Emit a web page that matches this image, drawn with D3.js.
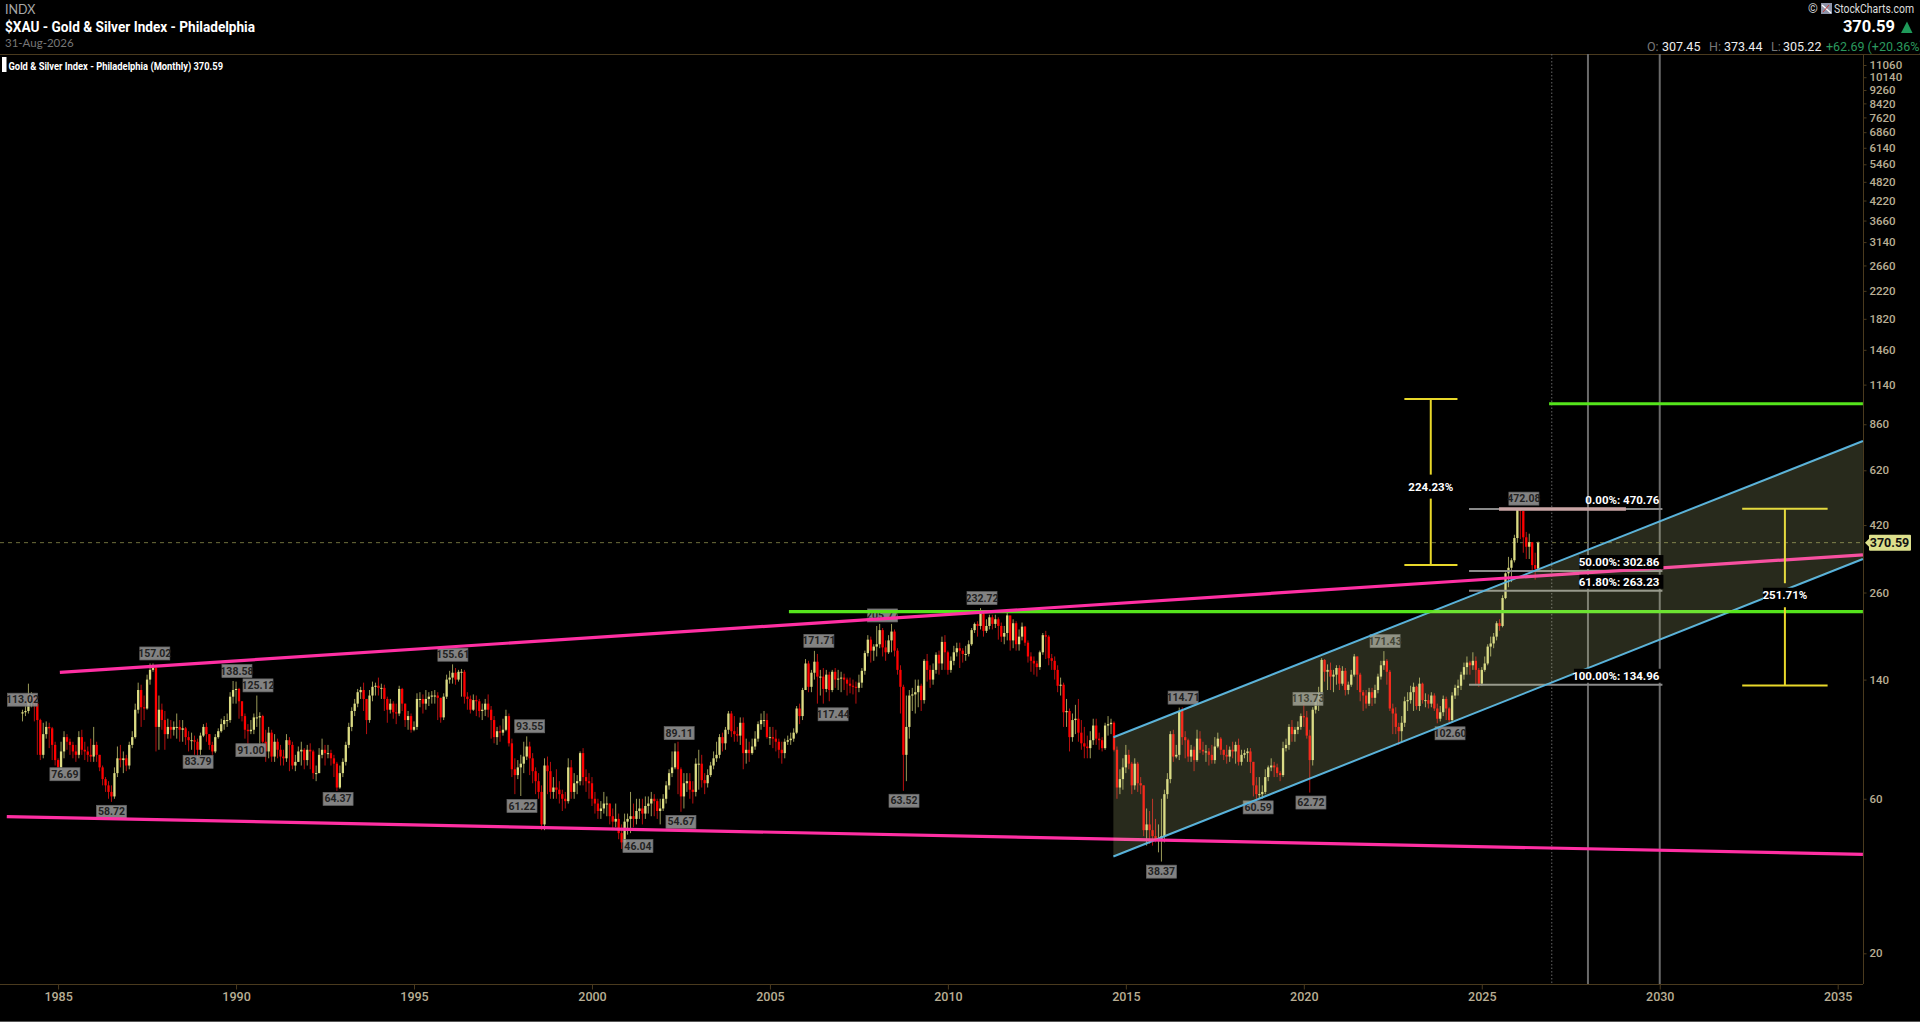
<!DOCTYPE html>
<html><head><meta charset="utf-8"><title>$XAU</title>
<script src="https://cdn.jsdelivr.net/npm/d3@7/dist/d3.min.js"></script>
<style>html,body{margin:0;background:#000;overflow:hidden}svg{display:block;font-family:Roboto,"Noto Sans",sans-serif}</style>
</head><body><svg id="c" width="1920" height="1022"></svg>
<script>
// Monthly candles from Jan 1984 to Aug 2026, one row per year
const firstOpen = 110;
const closes = [
111,112,122,125,118,105,82,95,100,99,88,79,
75,84,93,90,88,84,82,93,85,84,82,81,
88,82,75,69,66,63,61,72,80,79,80,76,
88,93,113,130,115,114,140,150,152,100,113,105,
95,100,98,100,100,98,99,93,91,91,90,85,
94,100,95,88,84,93,97,102,105,105,124,130,
131,120,108,98,97,98,107,107,108,90,84,96,
81,90,85,81,80,91,88,76,78,84,85,79,
85,84,72,72,82,85,83,83,80,77,65,72,
78,88,100,112,118,128,130,122,105,125,133,134,
132,132,122,113,118,111,110,131,118,105,108,98,
100,122,122,118,122,124,125,125,123,107,124,140,
142,147,140,148,148,124,122,113,121,120,112,113,
118,113,105,93,97,96,98,108,89,74,71,75,
77,81,87,80,73,68,63,50,76,73,63,65,
64,62,60,59,75,63,67,68,83,70,68,67,
60,58,55,56,58,58,53,51,52,47,44,51,
52,53,52,55,56,54,57,58,60,59,55,56,
60,66,72,75,84,74,61,67,68,64,63,77,
77,68.5,67,71,76,80,82,93,89,98,110,97,
95,94,103,83,85,83,87,92,102,105,105,93,
93,92,90,85,83,90,91,92,96,114,108,130,
157,133,147,159,143,143,131,145,130,148,140,141,
142,140,136,134,133,132,137,149,169,186,172,177,
180,199,176,170,185,197,172,150,133,82,100,125,
126,128,134,121,160,150,140,150,167,157,183,170,
150,160,170,175,172,168,168,180,199,208,205,224,
198,205,218,208,215,205,190,195,221,185,209,180,
190,204,182,165,160,157,153,170,192,190,163,160,
150,134,135,111,112,93,105,106,96,89,87,86,
91,101,92,91,86,101,102,103,85,65,69,75,
82,77,66,77,67,66,48,50,48,46,45,45,
46,62,69,95,81,82,112,93,91,81,85,79,
92,85,84,84,82,79,87,92,85,82,81,85,
84,88,78,82,83,84,78,66,62,62,63,70,
75,76,75,72,71,86,88,100,95,98,100,108,
107,94,79,113,120,128,161,148,150,143,145,152,
136,149,130,135,145,165,145,128,125,118,128,123,
130,143,155,160,148,114,110,100,97,103,120,121,
128,133,116,136,121,121,118,125,114,106,111,122,
114,105,125,132,134,145,153,158,155,160,150,136,
150,157,177,181,190,209,205,250,298,310,327,383,
468,465,385,360,372,316,307.9,370.59];
const highs = [
113,116,136,128,126,119,106,103,104,103,100,90,
80,90,97,95,92,90,88,97,98,90,87,92,
100,90,82,76,70,68,66,75,87,88,84,82,
90,97,118,137,135,125,145,157,157,155,125,118,
112,106,105,104,110,105,105,100,97,96,94,92,
96,102,103,95,90,95,99,106,108,110,128,138.6,
138,132,120,110,102,105,110,125,111,109,98,100,
98,95,92,88,85,95,93,90,82,87,90,86,
88,89,85,76,86,92,88,88,85,82,78,76,
80,90,103,115,122,131,133,137,122,130,138,137,
142,136,135,124,122,120,118,134,132,118,112,110,
104,127,128,126,130,128,129,130,128,123,127,145,
149,156,152,150,151,150,128,125,126,125,122,118,
122,126,116,108,100,101,106,113,110,92,80,79,
82,90,93.5,90,83,75,72,66,80,81,78,70,
74,68,64,63,80,79,72,71,84,86,74,72,
70,63,60,59,63,61,58,56,58,54,50,54,
54,63,58,60,60,60,61,61,63,62,60,60,
62,68,74,84,89,90,75,72,72,72,68,80,
85,82,72,74,78,84,90,95,96,100,112,112,
108,100,107,107,92,90,92,97,104,110,112,110,
100,100,98,92,90,92,94,96,99,116,118,132,
162,160,150,171.7,168,150,152,150,148,150,152,150,
148,146,142,142,140,138,145,152,172,192,190,180,
205,208,202,185,192,208,200,175,155,135,125,130,
132,140,140,136,162,168,155,157,170,172,190,192,
172,165,178,182,182,175,178,185,202,210,212,232.7,
225,215,222,222,222,218,210,205,228,220,215,212,
200,210,205,185,170,165,160,172,195,198,192,168,
165,155,142,137,122,114,110,117,122,105,100,94,
97,106,106,96,93,103,108,106,104,87,74,80,
88,85,78,80,78,70,66,56,55,60,52,50,
60,64,72,97,98,88,114.7,115,97,92,88,87,
98,97,90,88,86,88,93,96,93,85,88,87,
90,90,92,85,85,86,86,78,70,70,66,74,
76,80,78,77,73,90,92,102,105,100,104,110,
118,112,98,115,124,133,163,162,156,158,150,155,
155,154,152,138,150,168,165,147,130,130,132,132,
135,146,160,171.4,162,150,118,115,103,108,124,128,
134,137,134,142,137,127,126,128,127,118,116,125,
124,115,128,135,140,148,158,165,160,170,165,152,
153,165,180,190,195,212,215,255,300,335,332,392,
472.08,472,440,400,395,350,345,373.44];
const lows = [
104,108,110,115,104,82,79,80,92,86,79,76,
73,72,80,85,82,80,78,80,82,79,78,78,
78,78,73,66,63,60,58.7,60,70,75,72,73,
74,86,92,110,100,105,113,135,148,84,85,98,
85,92,92,94,92,90,90,88,84,85,82,80,
82,93,90,85,82,83,92,96,98,100,103,118,
118,106,104,92,88,95,95,100,88,82,78,80,
78,78,80,76,76,78,73,74,73,78,76,74,
76,74,69,68,72,80,76,80,76,70,63.5,64.4,
70,76,86,97,108,115,122,112,95,103,120,125,
125,122,112,103,110,106,102,108,112,100,98,96,
97,98,115,110,113,116,118,118,105,103,105,122,
136,136,135,138,124,118,113,110,112,108,107,105,
108,107,92,89,88,90,94,97,87,70,62,69,
61.2,72,79,71,67,62,60,48,48,62,60,60,
60,58,55,56,58,60,60,62,66,66,63,60,
57,54,52,52,54,53,50,48,49,45,42,43,
46.5,47,49,50,52,50,52,54,53,53,52,50,
55,58,64,70,74,62,54.7,56,63,60,58,61,
64,65,62,65,70,74,78,80,84,85,95,93,
90,90,88,74,77,78,82,85,90,98,100,92,
88,86,84,80,77,80,88,88,90,95,102,105,
130,128,128,140,118,125,118,128,120,128,132,130,
128,130,125,127,126,118,128,132,145,165,158,160,
165,175,165,160,168,170,165,145,110,63.5,68,92,
112,110,115,112,118,138,132,135,146,145,150,150,
145,147,155,165,152,158,160,165,178,195,190,200,
190,195,200,200,202,186,183,180,185,172,175,172,
172,185,178,158,148,145,143,150,167,162,155,150,
140,128,125,100,100,84,90,95,90,85,80,80,
80,88,88,85,84,85,94,95,84,60,62,64,
72,74,62,64,63,62,46,43,43.5,43,44,41,
38.4,44,60,67,78,80,79,88,80,78,78,73,
78,83,82,78,76,77,77,86,82,79,77,78,
80,77,76,76,80,78,72,61,59,60,60,62,
68,73,70,70,68,70,84,85,90,90,95,98,
100,92,62.7,76,110,112,127,138,130,130,128,135,
130,134,125,126,133,143,130,120,112,114,116,116,
118,127,140,150,135,112,95,95,88,90,100,112,
118,112,113,112,118,115,114,115,112,102.6,104,108,
105,103.5,103,122,125,130,140,145,145,150,135,133,
134,148,155,165,175,185,198,203,248,270,280,322,
370,380,345,330,330,305,285,305.22];

const yTicks = [11060,10140,9260,8420,7620,6860,6140,5460,4820,4220,3660,3140,2660,2220,1820,1460,1140,860,620,420,260,140,60,20];
const xYears = [1985,1990,1995,2000,2005,2010,2015,2020,2025,2030,2035];

// Swing annotations: text, month index, price, side
const noteTexts  = ["113.02","157.02","76.69","58.72","138.58","125.12","91.00","83.79","64.37","155.61","93.55","61.22","89.11","54.67","46.04","171.71","117.44","63.52","205.77","232.72","114.71","113.73","60.59","62.72","38.37","102.60","171.43","472.08"];
const noteMonths = [0,44.6,14.3,30,72.3,79.4,77,59.2,106.4,145.1,171,168.4,221.4,222,207.5,268.5,273.3,297.2,290,323.5,391.3,433.4,416.6,434.4,384,481.3,459.4,506.2];
const noteSides  = ["hi","hi","lo","lo","hi","hi","lo","lo","lo","hi","hi","lo","hi","lo","lo","hi","lo","lo","hi","hi","hi","hi","lo","lo","lo","lo","hi","hi"];

// Trendlines: [month, price] pairs
const pinkUpper = [[12.6,147.4],[620.5,340]];
const pinkLower = [[-5.3,52.85],[620.5,40.4]];
const greenLow  = [[258.4,227],[620.5,227]];
const greenHigh = [[514.7,995],[620.5,995]];
const chanTop   = [[367.8,92.9],[620.5,763.3]];
const chanBot   = [[367.8,39.8],[620.5,330]];
const verticals = [527.8,552];
const dottedVertical = 515.6;
const lastClose = 370.59;

const fibLevels = [470.76,302.86,263.23,134.96];
const fibTexts  = ["0.00%: 470.76","50.00%: 302.86","61.80%: 263.23","100.00%: 134.96"];
const fibSpan   = [487.7,552.9];
const fibHilite = [497.8,540.6];

const measures = [
  {text:"224.23%", month:474.8, from:465.9, to:483.8, lo:316, hi:1029, labelPrice:552},
  {text:"251.71%", month:594.2, from:579.8, to:608.6, lo:134.2, hi:472, labelPrice:255}
];

const svg = d3.select("#c");
const frame = {top:54,right:1863,bottom:984,left:0};
const x = d3.scaleLinear().domain([0,612]).range([22.5,1837.7]);
const y = d3.scaleLog().domain([20,11060]).range([953.3,65]);
const line = d3.line().x(d=>x(d[0])).y(d=>y(d[1]));
const TAN="#b8ae94", FRAME="#4a3a1e";

// Top rules and frame
svg.append("line").attr("x1",0).attr("x2",1920).attr("y1",54.5).attr("y2",54.5).attr("stroke",FRAME);
svg.append("line").attr("x1",0).attr("x2",frame.right).attr("y1",frame.bottom+.5).attr("y2",frame.bottom+.5).attr("stroke",FRAME);
svg.append("line").attr("x1",frame.right+.5).attr("x2",frame.right+.5).attr("y1",54).attr("y2",frame.bottom).attr("stroke",FRAME);
svg.append("line").attr("x1",0).attr("x2",1920).attr("y1",1021.5).attr("y2",1021.5).attr("stroke","#555");

// Axes
const ya = svg.append("g").attr("transform",`translate(${frame.right+.5},0)`)
  .call(d3.axisRight(y).tickValues(yTicks).tickSize(3).tickPadding(3).tickFormat(d3.format("d")));
ya.select(".domain").remove();
ya.selectAll("line").attr("stroke",FRAME);
ya.selectAll("text").attr("fill",TAN).attr("font-size",11.5).attr("font-weight",500).attr("font-family","Roboto");
const xa = svg.append("g").attr("transform",`translate(0,${frame.bottom+.5})`)
  .call(d3.axisBottom(x).tickValues(xYears.map(v=>(v-1984)*12)).tickSize(5).tickPadding(3).tickFormat(d=>1984+d/12));
xa.select(".domain").remove();
xa.selectAll("line").attr("stroke",FRAME);
xa.selectAll("text").attr("fill",TAN).attr("font-size",12.5).attr("font-weight",500).attr("font-family","Roboto");

// Vertical markers and last price line
svg.selectAll(".v").data(verticals).join("line").attr("class","v")
  .attr("x1",d=>x(d)).attr("x2",d=>x(d)).attr("y1",54).attr("y2",frame.bottom).attr("stroke","#6a6a6a").attr("stroke-width",2);
svg.append("line").attr("x1",x(dottedVertical)).attr("x2",x(dottedVertical)).attr("y1",54).attr("y2",frame.bottom)
  .attr("stroke","#666").attr("stroke-dasharray","1.5 2");
svg.append("line").attr("x1",0).attr("x2",frame.right).attr("y1",y(lastClose)).attr("y2",y(lastClose))
  .attr("stroke","#6f6f3c").attr("stroke-dasharray","4 4");

// Candles
const candles = closes.map((c,i)=>({i,c,o:i?closes[i-1]:firstOpen,h:highs[i],l:lows[i]}));
const UP="#dcdc84", DOWN="#ff0000";
const cg = svg.append("g");
cg.selectAll(".w").data(candles).join("line").attr("class","w")
  .attr("x1",d=>x(d.i)).attr("x2",d=>x(d.i)).attr("y1",d=>y(d.h)).attr("y2",d=>y(d.l))
  .attr("stroke",d=>d.c>=d.o?"#9a9a58":"#b80f0f").attr("stroke-width",1);
cg.selectAll(".b").data(candles).join("rect").attr("class","b")
  .attr("x",d=>x(d.i)-1.15).attr("width",2.3)
  .attr("y",d=>y(Math.max(d.o,d.c)))
  .attr("height",d=>Math.max(1,y(Math.min(d.o,d.c))-y(Math.max(d.o,d.c))))
  .attr("fill",d=>d.c>=d.o?UP:DOWN);

// Swing labels
const ng = svg.append("g");
noteTexts.forEach((t,k)=>{
  const cx=x(noteMonths[k]), cy=y(+t)+(noteSides[k]==="hi"?-10:10);
  ng.append("rect").attr("x",cx-15).attr("y",cy-6.5).attr("width",30).attr("height",13)
    .attr("fill","#999").attr("fill-opacity",.85).attr("stroke","#666").attr("stroke-width",.7);
  ng.append("text").attr("x",cx).attr("y",cy+3.6).attr("text-anchor","middle")
    .attr("font-size",10.5).attr("font-weight",700).attr("fill","#222").text(t);
});

// Fibonacci lines
svg.selectAll(".fib").data(fibLevels).join("line").attr("class","fib")
  .attr("x1",x(fibSpan[0])).attr("x2",x(fibSpan[1])).attr("y1",d=>y(d)).attr("y2",d=>y(d))
  .attr("stroke","#8a8a8a").attr("stroke-width",2);
svg.append("line").attr("x1",x(fibHilite[0])).attr("x2",x(fibHilite[1])).attr("y1",y(fibLevels[0])).attr("y2",y(fibLevels[0]))
  .attr("stroke","#c8a4a4").attr("stroke-width",3.5);

// Trendlines
const tl=(d,c,w)=>svg.append("path").attr("d",line(d)).attr("fill","none").attr("stroke",c).attr("stroke-width",w);
tl(chanTop,"#4eaee0",2); tl(chanBot,"#4eaee0",2);
tl(greenLow,"#55e41c",3.2); tl(greenHigh,"#55e41c",3.2);
tl(pinkUpper,"#ff2fa3",3.2); tl(pinkLower,"#ff2fa3",3.2);

// Measure brackets
const YEL="#e8d82a";
measures.forEach(m=>{
  const g=svg.append("g").attr("stroke",YEL).attr("stroke-width",2);
  const top=y(m.hi),bot=y(m.lo),lc=y(m.labelPrice);
  g.append("line").attr("x1",x(m.from)).attr("x2",x(m.to)).attr("y1",top).attr("y2",top);
  g.append("line").attr("x1",x(m.from)).attr("x2",x(m.to)).attr("y1",bot).attr("y2",bot);
  g.append("line").attr("x1",x(m.month)).attr("x2",x(m.month)).attr("y1",top).attr("y2",lc-12);
  g.append("line").attr("x1",x(m.month)).attr("x2",x(m.month)).attr("y1",lc+12).attr("y2",bot);
});

// Channel shading sits over marks
svg.append("path").attr("d",d3.area().x(d=>x(d[0])).y0(d=>y(d[1])).y1(d=>y(d[2]))(
  chanTop.map((d,i)=>[d[0],d[1],chanBot[i][1]])))
  .attr("fill","rgb(210,225,150)").attr("fill-opacity",.19);

// Measure labels and fib labels over the shading
measures.forEach(m=>{
  const cx=x(m.month),cy=y(m.labelPrice);
  svg.append("rect").attr("x",cx-22).attr("y",cy-7.5).attr("width",44).attr("height",15).attr("fill","#000");
  svg.append("text").attr("x",cx).attr("y",cy+4).attr("text-anchor","middle").attr("fill","#fff")
    .attr("font-size",11.5).attr("font-weight",700).text(m.text);
});
fibTexts.forEach((t,k)=>{
  const yy=y(fibLevels[k])-9;
  const tx=x(fibSpan[1])-3;
  const w=t.length*5.5+3;
  if(k) svg.append("rect").attr("x",tx-w).attr("y",yy-7).attr("width",w+4).attr("height",14).attr("fill","#000");
  svg.append("text").attr("x",tx).attr("y",yy+4).attr("text-anchor","end").attr("fill","#fff")
    .attr("font-size",11.5).attr("font-weight",700).text(t);
});

// Last price tag
const tagY=y(lastClose);
svg.append("path").attr("d",`M1865,${tagY} l4,-4 v-3 q0,-1 1,-1 h40 q1,0 1,1 v14 q0,1 -1,1 h-40 q-1,0 -1,-1 v-3 z`).attr("fill","#dcdf8c");
svg.append("text").attr("x",1889.5).attr("y",tagY+4.5).attr("text-anchor","middle").attr("fill","#111")
  .attr("font-size",12.5).attr("font-weight",700).text(lastClose.toFixed(2));

// Header
const hdr=(t,xp,yp,o)=>{const e=svg.append("text").attr("x",xp).attr("y",yp).text(t);
  Object.entries(o).forEach(([k,v])=>e.attr(k,v));return e;};
hdr("INDX",5,14,{fill:"#a8a8a8","font-size":12.5,"font-family":"Lato"});
hdr("$XAU - Gold & Silver Index - Philadelphia",5,32,{fill:"#fff","font-size":15.5,"font-weight":700,textLength:250,lengthAdjust:"spacingAndGlyphs"});
hdr("31-Aug-2026",5,47,{fill:"#777","font-size":11.5,"font-family":"Lato"});
svg.append("rect").attr("x",2).attr("y",57).attr("width",4.5).attr("height",15).attr("fill","#fff");
hdr("Gold & Silver Index - Philadelphia (Monthly) 370.59",8.5,70,{fill:"#fff","font-size":10.5,"font-weight":700,textLength:214.5,lengthAdjust:"spacingAndGlyphs"});

hdr("©",1808,13,{fill:"#ccc","font-size":12.5});
svg.append("rect").attr("x",1821).attr("y",3).attr("width",11).attr("height",11).attr("fill","#8d93a8");
svg.append("path").attr("d","M1822,5 L1831,13").attr("stroke","#fff").attr("stroke-width",1.4);
svg.append("path").attr("d","M1823,12 L1829,5").attr("stroke","#c33").attr("stroke-width",1);
hdr("StockCharts.com",1914,13,{fill:"#ddd","font-size":13,"text-anchor":"end",textLength:80,lengthAdjust:"spacingAndGlyphs"});
hdr("370.59",1895,32,{fill:"#fff","font-size":16.5,"font-weight":700,"text-anchor":"end"});
svg.append("path").attr("d","M1907,21.5 L1912.5,33 L1901,33 Z").attr("fill","#1f9a5a");
const ohl=[["O:",1647,"#777"],["307.45",1662,"#eee"],["H:",1709,"#777"],["373.44",1724,"#eee"],["L:",1771,"#777"],["305.22",1783,"#eee"],["+62.69 (+20.36%)",1826,"#2b9a5e"]];
ohl.forEach(d=>hdr(d[0],d[1],50.5,{fill:d[2],"font-size":12.5}));
</script></body></html>
